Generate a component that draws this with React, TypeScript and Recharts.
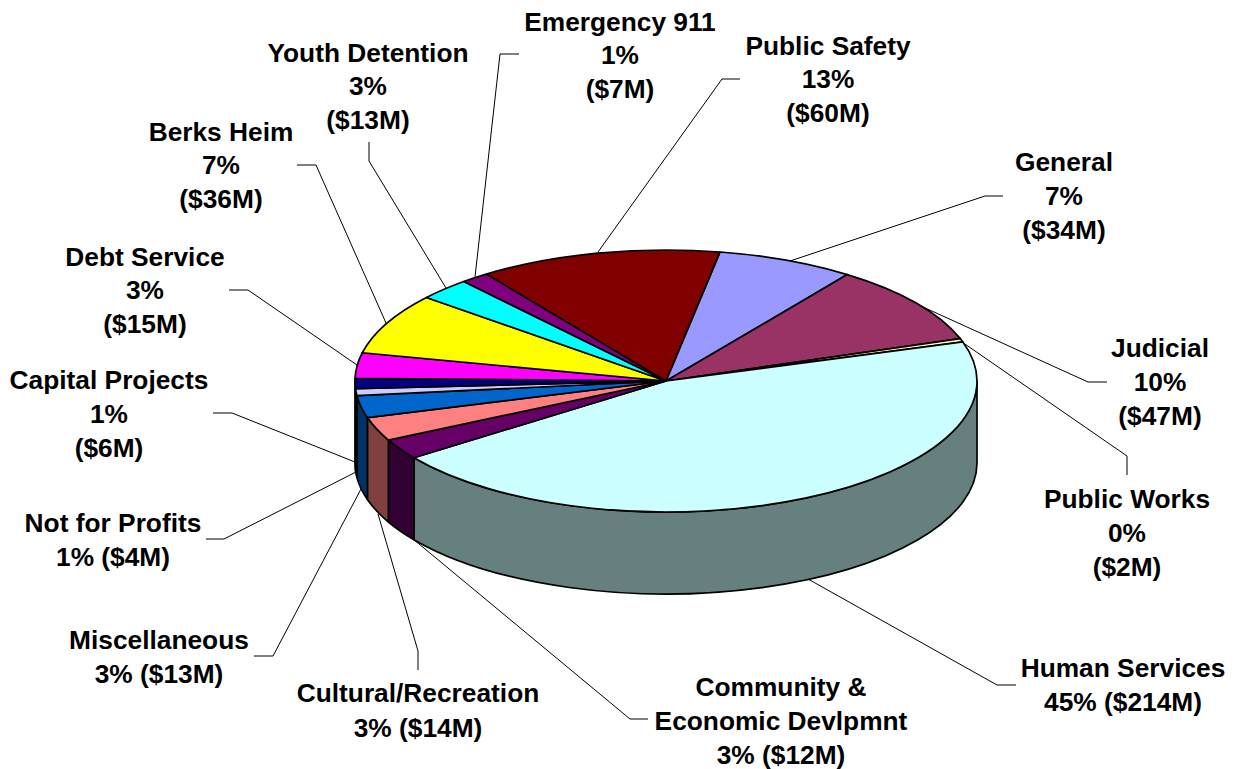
import React from "react";
import { PieChart, Pie } from "recharts";

// Budget by function, in pie order starting from the top and running clockwise
const categories = [
  "General",
  "Judicial",
  "Public Works",
  "Human Services",
  "Community & Economic Devlpmnt",
  "Cultural/Recreation",
  "Miscellaneous",
  "Not for Profits",
  "Capital Projects",
  "Debt Service",
  "Berks Heim",
  "Youth Detention",
  "Emergency 911",
  "Public Safety",
];
const millions = [34, 47, 2, 214, 12, 14, 13, 4, 6, 15, 36, 13, 7, 60];
const percents = [7, 10, 0, 45, 3, 3, 3, 1, 1, 3, 7, 3, 1, 13];
const colors = [
  "#9999FF",
  "#993366",
  "#FFFFCC",
  "#CCFFFF",
  "#660066",
  "#FF8080",
  "#0066CC",
  "#CCCCFF",
  "#000080",
  "#FF00FF",
  "#FFFF00",
  "#00FFFF",
  "#800080",
  "#800000",
];

const WIDTH = 1235;
const HEIGHT = 769;
const CX = 666;
const CY = 381;
const RX = 311;
const RY = 131;
const DEPTH = 82;

interface Callout {
  readonly x: number;
  readonly lines: ReadonlyArray<readonly [string, number]>;
  readonly leader: string;
}

// Text rows (with their vertical centres) and leader line for each slice
function calloutRows(i: number): ReadonlyArray<string> {
  const pct = `${percents[i]}%`;
  const amount = `($${millions[i]}M)`;
  return [pct, amount];
}

const callouts: ReadonlyArray<Callout> = [
  { x: 1064, lines: [["General", 162], [calloutRows(0)[0], 196], [calloutRows(0)[1], 230]], leader: "790,261 985,196 1003,196" },
  { x: 1160, lines: [["Judicial", 348], [calloutRows(1)[0], 382], [calloutRows(1)[1], 416]], leader: "923,307 1088,382 1107,382" },
  { x: 1127, lines: [["Public Works", 499], [calloutRows(2)[0], 533], [calloutRows(2)[1], 567]], leader: "962,342 1127,456 1127,475" },
  { x: 1123, lines: [["Human Services", 668], [`${calloutRows(3)[0]} ${calloutRows(3)[1]}`, 702]], leader: "808,579 997,685 1016,685" },
  { x: 781, lines: [["Community &", 687], ["Economic Devlpmnt", 721], [`${calloutRows(4)[0]} ${calloutRows(4)[1]}`, 755]], leader: "413,539 630,719 648,719" },
  { x: 418, lines: [["Cultural/Recreation", 693], [`${calloutRows(5)[0]} ${calloutRows(5)[1]}`, 728]], leader: "378,514 418,651 418,670" },
  { x: 159, lines: [["Miscellaneous", 640], [`${calloutRows(6)[0]} ${calloutRows(6)[1]}`, 674]], leader: "361,489 273,656 254,656" },
  { x: 113, lines: [["Not for Profits", 523], [`${calloutRows(7)[0]} ${calloutRows(7)[1]}`, 557]], leader: "356,472 224,539 206,539" },
  { x: 109, lines: [["Capital Projects", 380], [calloutRows(8)[0], 414], [calloutRows(8)[1], 448]], leader: "355,462 232,413 213,413" },
  { x: 145, lines: [["Debt Service", 257], [calloutRows(9)[0], 290], [calloutRows(9)[1], 324]], leader: "357,365 248,290 229,290" },
  { x: 221, lines: [["Berks Heim", 132], [calloutRows(10)[0], 165], [calloutRows(10)[1], 199]], leader: "386,323 316,165 297,165" },
  { x: 368, lines: [["Youth Detention", 53], [calloutRows(11)[0], 86], [calloutRows(11)[1], 120]], leader: "446,288 369,161 369,142" },
  { x: 620, lines: [["Emergency 911", 22], [calloutRows(12)[0], 55], [calloutRows(12)[1], 89]], leader: "475,277 500,54 519,54" },
  { x: 828, lines: [["Public Safety", 46], [calloutRows(13)[0], 79], [calloutRows(13)[1], 113]], leader: "598,252 722,79 740,79" },
];

const rows = categories.map((name, i) => ({ name, value: millions[i], fill: colors[i] }));

// The side wall is the face colour at half brightness
function halfTone(hex: string): string {
  const channels = [1, 3, 5].map((p) => Math.round(parseInt(hex.slice(p, p + 2), 16) / 2));
  return `rgb(${channels.join(",")})`;
}

function ellipsePoint(angle: number, drop = 0): string {
  const rad = (angle * Math.PI) / 180;
  return `${CX + RX * Math.cos(rad)} ${CY - RY * Math.sin(rad) + drop}`;
}

function TopFace(props: any): React.JSX.Element {
  const { startAngle, endAngle, fill } = props;
  const large = Math.abs(startAngle - endAngle) > 180 ? 1 : 0;
  const d = `M${CX} ${CY} L${ellipsePoint(startAngle)} A${RX} ${RY} 0 ${large} 1 ${ellipsePoint(endAngle)} Z`;
  return <path d={d} fill={fill} stroke="#000" strokeWidth={1.7} strokeLinejoin="round" />;
}

function SideWall(props: any): React.JSX.Element | null {
  const { startAngle, endAngle, fill } = props;
  // only the front half of the rim (angles -180..0) shows a wall
  const from = Math.min(startAngle, 0);
  const to = Math.max(endAngle, -180);
  if (from <= to) return null;
  const d =
    `M${ellipsePoint(from)} A${RX} ${RY} 0 0 1 ${ellipsePoint(to)} ` +
    `L${ellipsePoint(to, DEPTH)} A${RX} ${RY} 0 0 0 ${ellipsePoint(from, DEPTH)} Z`;
  return <path d={d} fill={halfTone(fill)} stroke="#000" strokeWidth={1.7} strokeLinejoin="round" />;
}

function renderCallout(props: any): React.JSX.Element {
  const item = callouts[props.index];
  return (
    <g>
      <polyline points={item.leader} fill="none" stroke="#000" strokeWidth={1} />
      {item.lines.map(([text, y]) => (
        <text
          key={text}
          x={item.x}
          y={y + 9}
          textAnchor="middle"
          fontFamily="'Liberation Sans', Arial, sans-serif"
          fontWeight="bold"
          fontSize={26.3}
          fill="#000"
        >
          {text}
        </text>
      ))}
    </g>
  );
}

export default function App(): React.JSX.Element {
  return (
    <div style={{ position: "absolute", left: 0, top: 0, width: WIDTH, height: HEIGHT, background: "#fff" }}>
      <PieChart width={WIDTH} height={HEIGHT} margin={{ top: 0, right: 0, bottom: 0, left: 0 }}>
        <Pie
          data={rows}
          dataKey="value"
          nameKey="name"
          cx={CX}
          cy={CY}
          outerRadius={RX}
          startAngle={80}
          endAngle={-280}
          shape={SideWall}
          isAnimationActive={false}
        />
        <Pie
          data={rows}
          dataKey="value"
          nameKey="name"
          cx={CX}
          cy={CY}
          outerRadius={RX}
          startAngle={80}
          endAngle={-280}
          shape={TopFace}
          label={renderCallout}
          labelLine={false}
          isAnimationActive={false}
        />
      </PieChart>
    </div>
  );
}
